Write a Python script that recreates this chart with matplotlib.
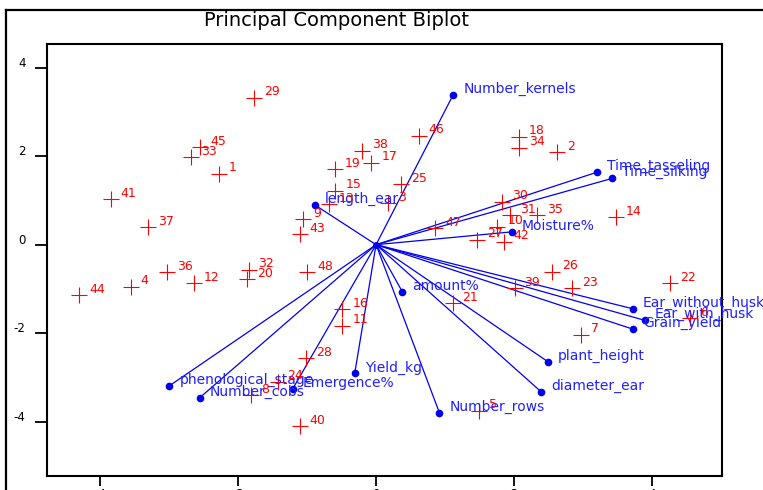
import numpy as np
import matplotlib
matplotlib.use('Agg')
import matplotlib.pyplot as plt
from matplotlib.lines import Line2D
from matplotlib.transforms import ScaledTranslation

# observation scores (PC1, PC2), labelled 1..48
obs_labels = [str(i) for i in range(1, 49)]
obs_x = [-2.28, 2.63, 0.17, -3.56, 1.49, 4.56, 2.97, -1.82, -1.06, 1.76,
         -0.49, -2.64, -0.69, 3.48, -0.59, -0.49, -0.07, 2.07, -0.60, -1.87,
         1.11, 4.26, 2.85, -1.43, 0.36, 2.55, 1.47, -1.02, -1.77, 1.83,
         1.95, -1.85, -2.68, 2.08, 2.34, -3.03, -3.31, -0.20, 2.01, -1.11,
         -3.85, 1.85, -1.11, -4.31, -2.55, 0.62, 0.86, -1.00]
obs_y = [1.60, 2.09, 0.94, -0.95, -3.75, -1.66, -2.04, -3.40, 0.58, 0.41,
         -1.83, -0.87, 0.91, 0.62, 1.22, -1.46, 1.85, 2.44, 1.70, -0.78,
         -1.32, -0.87, -0.99, -3.10, 1.37, -0.61, 0.11, -2.57, 3.32, 0.97,
         0.67, -0.57, 1.98, 2.19, 0.67, -0.62, 0.39, 2.12, -0.99, -4.10,
         1.03, 0.07, 0.24, -1.14, 2.20, 2.46, 0.37, -0.62]

# variable loadings (scaled)
var_names = ['Number_kernels', 'Time_tasseling', 'Time_silking', 'length_ear',
             'Moisture%', 'amount%', 'Ear_without_husk', 'Ear_with_husk',
             'Grain_yield', 'plant_height', 'diameter_ear', 'Number_rows',
             'Yield_kg', 'Emergence%', 'phenological_stage', 'Number_cobs']
var_x = [1.12, 3.21, 3.43, -0.89, 1.97, 0.38, 3.73, 3.90,
         3.73, 2.49, 2.40, 0.92, -0.31, -1.21, -3.00, -2.56]
var_y = [3.39, 1.64, 1.50, 0.90, 0.29, -1.06, -1.45, -1.71,
         -1.91, -2.64, -3.33, -3.80, -2.91, -3.26, -3.19, -3.46]

x_ticks = [-4, -2, 0, 2, 4]
y_ticks = [-4, -2, 0, 2, 4]


def main():
    plt.rcParams['axes.unicode_minus'] = False
    fig = plt.figure(figsize=(7.63, 4.90), dpi=100)
    ax = fig.add_axes([47 / 763, 1 - 476 / 490, 675 / 763, 432 / 490])

    # loadings as arrows from the origin
    for name, vx, vy in zip(var_names, var_x, var_y):
        ax.plot([0, vx], [0, vy], color='#0000ee', lw=0.9, zorder=2)
        ax.plot(vx, vy, 'o', color='#0000ee', ms=4.5, zorder=3)
        ax.annotate(name, (vx, vy), xytext=(7.2, 4.3), textcoords='offset points',
                    color='#2020ff', fontsize=10, va='center', ha='left',
                    annotation_clip=False, zorder=4)
    ax.plot(0, 0, 'o', color='#0000ee', ms=4, zorder=3)

    # observations
    ax.plot(obs_x, obs_y, '+', color='red', ms=12, mew=0.8, zorder=3)
    for lab, px, py in zip(obs_labels, obs_x, obs_y):
        ax.annotate(lab, (px, py), xytext=(7.2, 4.3), textcoords='offset points',
                    color='red', fontsize=9, va='center', ha='left', zorder=4)

    ax.set_xlim(-4.775, 5.02)
    ax.set_ylim(-5.227, 4.535)
    ax.set_xticks(x_ticks)
    ax.set_yticks(y_ticks)
    ax.tick_params(axis='y', direction='out', length=8.5, width=1.3,
                   labelsize=8.5, pad=7)
    ax.tick_params(axis='x', direction='out', length=7.5, width=1.3,
                   labelsize=8.5, pad=1)
    for lab in ax.get_yticklabels():
        lab.set_transform(lab.get_transform() +
                          ScaledTranslation(0, 6 / 100, fig.dpi_scale_trans))
    for sp in ax.spines.values():
        sp.set_linewidth(1.5)

    fig.text(337 / 763, 1 - 20.5 / 490, 'Principal Component Biplot',
             fontsize=14, ha='center', va='center', color='black')

    # outer frame (only top and left edges are inside the picture)
    fig.add_artist(Line2D([5.5 / 763, 1.0], [1 - 10 / 490, 1 - 10 / 490],
                          transform=fig.transFigure, color='black', lw=1.6))
    fig.add_artist(Line2D([5.5 / 763, 5.5 / 763], [0, 1 - 10 / 490],
                          transform=fig.transFigure, color='black', lw=1.6))

    fig.savefig('out.png', dpi=100)


if __name__ == "__main__":
    main()
